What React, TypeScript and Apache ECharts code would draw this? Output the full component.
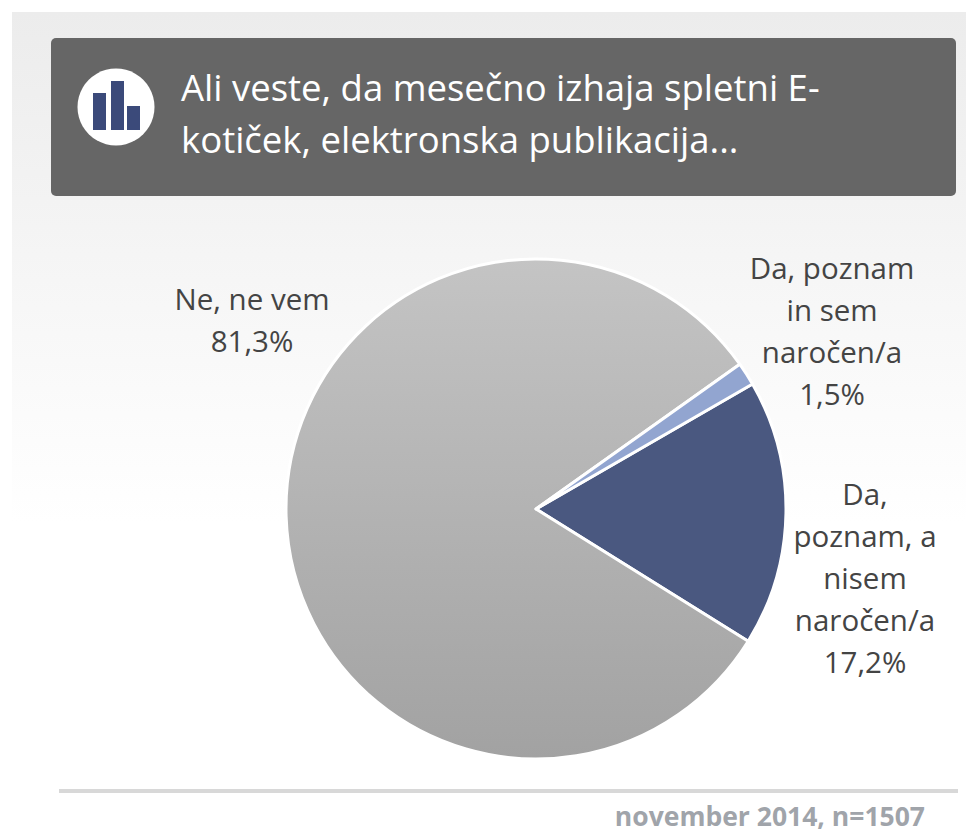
import React, { useEffect, useRef } from "react";
import * as echarts from "echarts";

const categories = ["Da, poznam, a nisem naročen/a", "Ne, ne vem", "Da, poznam in sem naročen/a"];
const labelTexts = ["Da,\npoznam, a\nnisem\nnaročen/a\n17,2%", "Ne, ne vem\n81,3%", "Da, poznam\nin sem\nnaročen/a\n1,5%"];
const values = [17.2, 81.3, 1.5];
const titleLines = "Ali veste, da mesečno izhaja spletni E-\nkotiček, elektronska publikacija...";
const footer = "november 2014, n=1507";
const font = "'Open Sans', 'Noto Sans', sans-serif";
const labelCentres = [
  { x: 865, y: 577 },
  { x: 252, y: 319 },
  { x: 832, y: 330 },
];

const W = 966, H = 832;

export default function App() {
  const ref = useRef<HTMLDivElement>(null);
  useEffect(() => {
    const chart = echarts.init(ref.current!, null, { renderer: "svg" });
    const grey = new echarts.graphic.LinearGradient(0, 0, 0, 1, [
      { offset: 0, color: "#c4c4c4" },
      { offset: 1, color: "#a2a2a2" },
    ]);
    const colors = ["#4a5880", grey, "#92a5d0"];
    chart.setOption({
      animation: false,
      backgroundColor: "#ffffff",
      graphic: [
        { type: "rect", z: 0, shape: { x: 12, y: 12, width: 954, height: 510 },
          style: { fill: new echarts.graphic.LinearGradient(0, 0, 0, 1, [
            { offset: 0, color: "#ececec" }, { offset: 1, color: "#ffffff" } ]) } },
        { type: "rect", z: 1, shape: { x: 51, y: 38, width: 905, height: 158, r: 5 }, style: { fill: "#666666" } },
        { type: "circle", z: 2, shape: { cx: 116, cy: 107, r: 38.5 }, style: { fill: "#ffffff" } },
        { type: "rect", z: 3, shape: { x: 93, y: 93, width: 13, height: 37 }, style: { fill: "#3b4a7a" } },
        { type: "rect", z: 3, shape: { x: 111, y: 81, width: 13, height: 49 }, style: { fill: "#3b4a7a" } },
        { type: "rect", z: 3, shape: { x: 127, y: 106, width: 13, height: 24 }, style: { fill: "#3b4a7a" } },
        { type: "text", z: 3, x: 181, y: 61, style: { text: titleLines, fill: "#ffffff", font: `36.5px ${font}`, lineHeight: 52 } },
        { type: "line", z: 1, shape: { x1: 59, y1: 791, x2: 958, y2: 791 }, style: { stroke: "#d8d8d8", lineWidth: 4 } },
        { type: "text", z: 2, x: 925, y: 802, style: { text: footer, fill: "#a0a4aa", font: `bold 26.5px ${font}`, align: "right" } },
      ],
      series: [{
        type: "pie",
        center: [536, 509],
        radius: [0, 250],
        startAngle: 30,
        clockwise: true,
        z: 5,
        itemStyle: { borderColor: "#ffffff", borderWidth: 3 },
        label: { show: true, position: "outside", overflow: "none", color: "#444444", fontFamily: font, fontSize: 29.5, lineHeight: 42, align: "center" },
        labelLine: { show: false },
        labelLayout: (p: any) => ({ x: labelCentres[p.dataIndex].x, y: labelCentres[p.dataIndex].y, align: "center", verticalAlign: "middle" }),
        data: categories.map((name, i) => ({
          name,
          value: values[i],
          itemStyle: { color: colors[i] },
          label: { formatter: labelTexts[i] },
        })),
      }],
    });
    return () => chart.dispose();
  }, []);
  return <div ref={ref} style={{ width: W, height: H, position: "absolute", left: 0, top: 0 }} />;
}
